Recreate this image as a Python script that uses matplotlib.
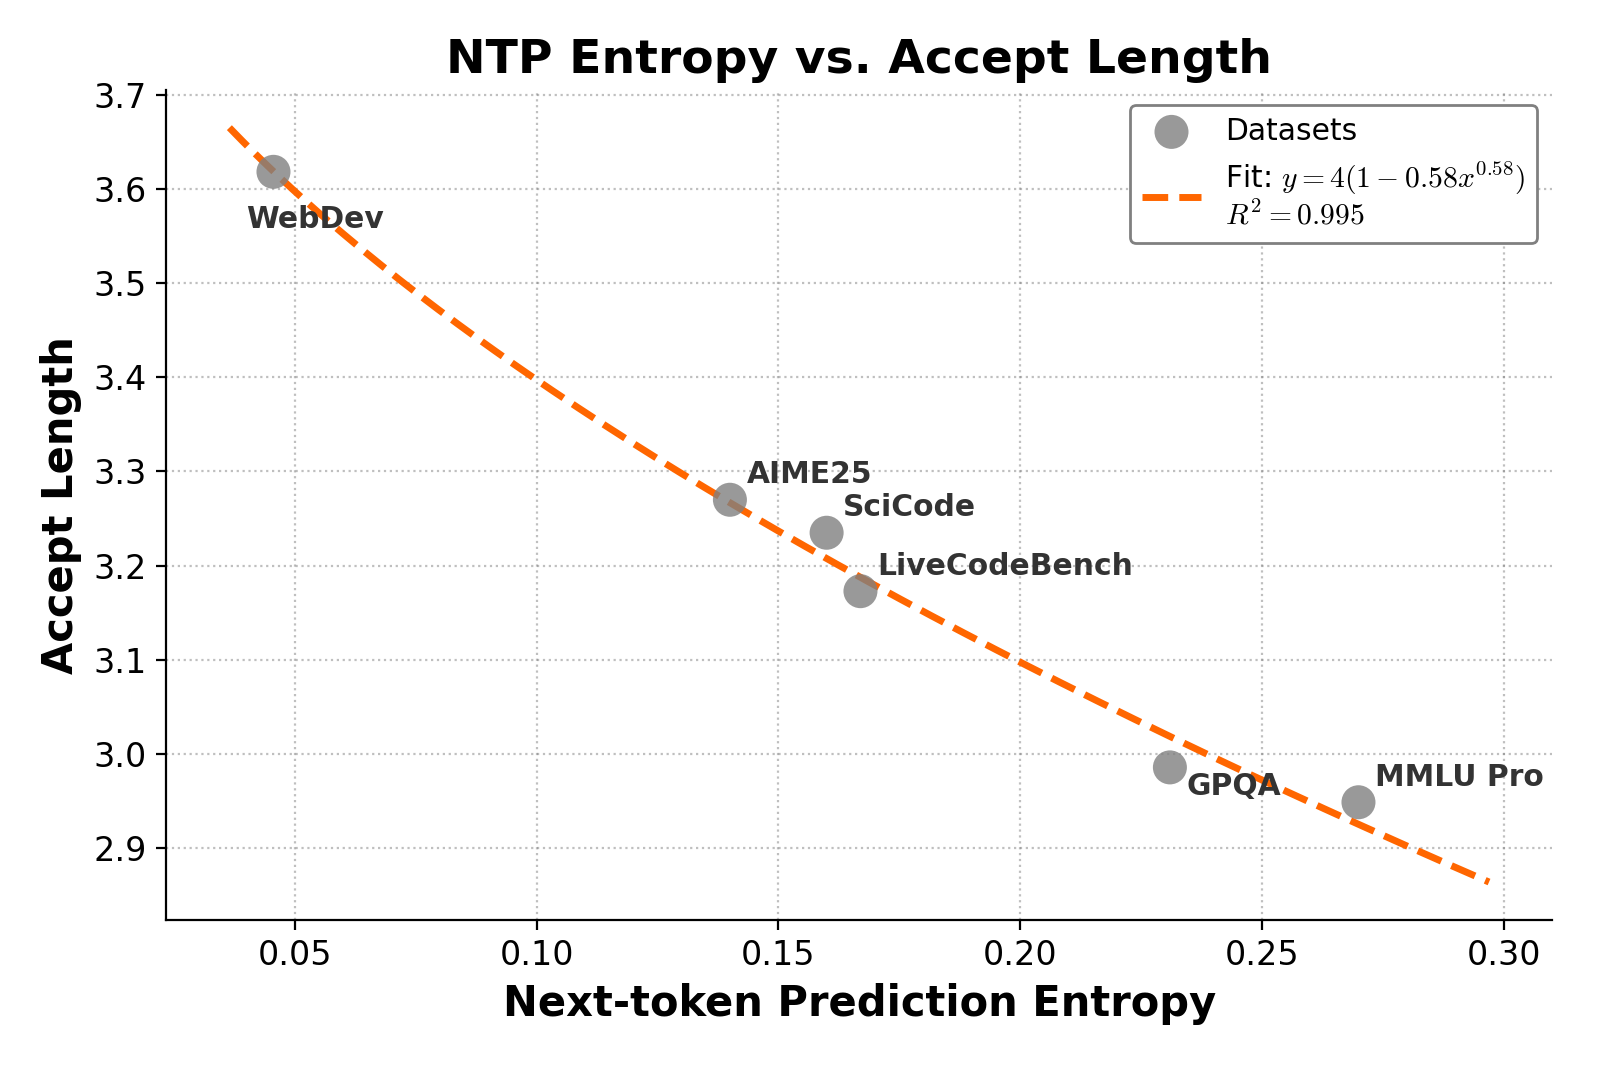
import numpy as np
import matplotlib
matplotlib.use('Agg')
import matplotlib.pyplot as plt

plt.rcParams['mathtext.fontset'] = 'cm'

# data
names = ['WebDev', 'AIME25', 'SciCode', 'LiveCodeBench', 'GPQA', 'MMLU Pro']
entropy = [0.0456, 0.140, 0.160, 0.167, 0.231, 0.270]
accept_len = [3.618, 3.270, 3.235, 3.173, 2.986, 2.949]
label_offsets = [(-10, -17), (6, 9), (6, 9), (6, 9), (6, -7), (6, 9)]

# fit parameters (legend shows them rounded)
fit_a = 4.0
fit_b = 0.5755
fit_c = 0.582
fit_label = 'Fit: $y = 4(1 - 0.58x^{0.58})$\n$R^2 = 0.995$'

fig, ax = plt.subplots(figsize=(8, 5.335), dpi=200)
fig.subplots_adjust(left=0.104, right=0.97, top=0.9157, bottom=0.138)

x_fit = np.linspace(min(entropy) * 0.8, max(entropy) * 1.1, 200)
y_fit = fit_a * (1 - fit_b * x_fit ** fit_c)

ax.scatter(entropy, accept_len, s=150, color='gray', alpha=0.8,
           edgecolors='none', zorder=3, label='Datasets')
ax.plot(x_fit, y_fit, '--', color='#FF6600', lw=2.5, zorder=2, label=fit_label)

for name, x, y, off in zip(names, entropy, accept_len, label_offsets):
    ax.annotate(name, (x, y), xytext=off, textcoords='offset points',
                ha='left', va='center', fontsize=10.7, fontweight='bold',
                color='#333333', zorder=4)

ax.set_title('NTP Entropy vs. Accept Length', fontsize=17, fontweight='bold')
ax.set_xlabel('Next-token Prediction Entropy', fontsize=15, fontweight='bold')
ax.set_ylabel('Accept Length', fontsize=15, fontweight='bold')
ax.tick_params(labelsize=12)
ax.grid(True, linestyle=':', color='gray', alpha=0.5)
ax.spines['top'].set_visible(False)
ax.spines['right'].set_visible(False)
ax.legend(loc='upper right', fontsize=10.7, edgecolor='gray', framealpha=1,
          fancybox=True)

plt.savefig('out.png')
